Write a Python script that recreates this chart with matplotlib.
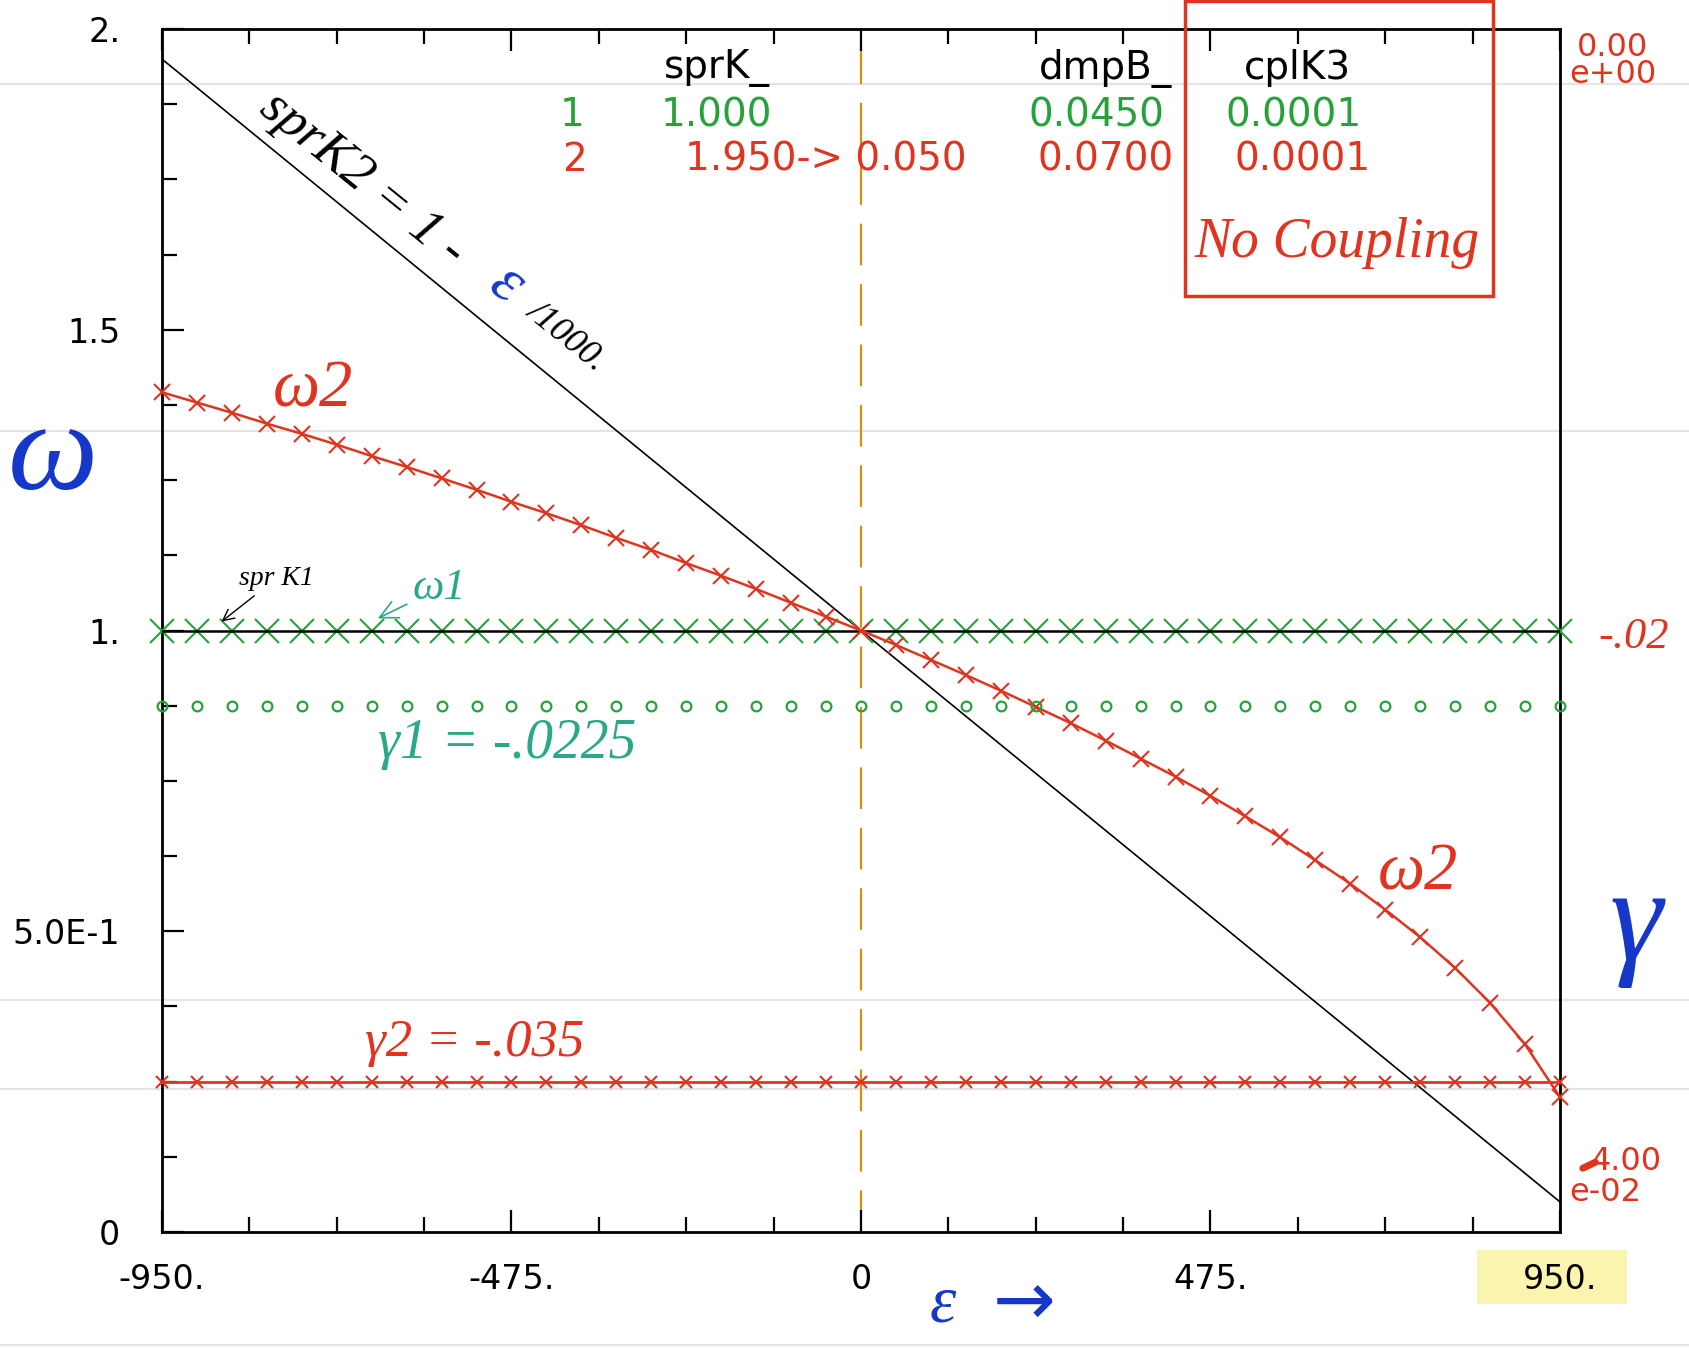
import matplotlib.pyplot as plt
from matplotlib.patches import Rectangle
from matplotlib.lines import Line2D
from matplotlib.ticker import MultipleLocator

# epsilon sweep
eps = [-950.0, -902.5, -855.0, -807.5, -760.0, -712.5, -665.0, -617.5, -570.0, -522.5,
       -475.0, -427.5, -380.0, -332.5, -285.0, -237.5, -190.0, -142.5, -95.0, -47.5,
       0.0, 47.5, 95.0, 142.5, 190.0, 237.5, 285.0, 332.5, 380.0, 427.5,
       475.0, 522.5, 570.0, 617.5, 665.0, 712.5, 760.0, 807.5, 855.0, 902.5, 950.0]

# frequencies (left axis)
omega1 = [1.000] * 41
omega2 = [1.396, 1.379, 1.362, 1.344, 1.327, 1.309, 1.290, 1.272, 1.253, 1.234,
          1.214, 1.195, 1.175, 1.154, 1.134, 1.112, 1.091, 1.069, 1.046, 1.023,
          1.000, 0.976, 0.951, 0.926, 0.900, 0.873, 0.846, 0.817, 0.787, 0.757,
          0.725, 0.691, 0.656, 0.618, 0.579, 0.536, 0.490, 0.439, 0.381, 0.312, 0.224]

# damping rates (right axis)
gamma1 = [-0.0225] * 41
gamma2 = [-0.035] * 41

# spring constants
sprk1_ends = [1.0, 1.0]
sprk2_ends = [1.95, 0.05]
eps_ends = [-950.0, 950.0]

# parameter table
header = ["sprK_", "dmpB_", "cplK3"]
row1 = ["1", "1.000", "0.0450", "0.0001"]
row2 = ["2", "1.950-> 0.050", "0.0700", "0.0001"]

xticks = [-950, -475, 0, 475, 950]
xlabels = ["-950.", "-475.", "0", "475.", "950."]
yticks = [0, 0.5, 1.0, 1.5, 2.0]
ylabels = ["0", "5.0E-1", "1.", "1.5", "2."]

GREEN = "#27a23a"
RED = "#e0341f"
ORANGE = "#e58a00"
BLUE = "#1638c8"
TEAL = "#2aa888"
HAND = dict(family=["Liberation Serif", "DejaVu Sans"], style="italic")

fig = plt.figure(figsize=(16.9, 13.48), dpi=100)
fig.patch.set_facecolor("white")

# faint scan lines
for yy in [84, 431, 1000, 1089, 1345]:
    fig.add_artist(Line2D([0, 1], [1 - yy / 1348] * 2, transform=fig.transFigure,
                          color="#e4e4e4", lw=1.5, zorder=-2))

# yellow highlight behind 950.
fig.add_artist(Rectangle((0.874, 0.033), 0.089, 0.040, transform=fig.transFigure,
                         facecolor="#faf4ae", edgecolor="none", zorder=-1))

ax = fig.add_axes([162 / 1690, 116 / 1348, 1398 / 1690, 1203 / 1348])
ax.patch.set_visible(False)
ax.set_xlim(-950, 950)
ax.set_ylim(0, 2)
for s in ax.spines.values():
    s.set_linewidth(2)

ax.set_xticks(xticks)
ax.set_xticklabels(xlabels)
ax.set_yticks(yticks)
ax.set_yticklabels(ylabels)
ax.xaxis.set_minor_locator(MultipleLocator(118.75))
ax.yaxis.set_minor_locator(MultipleLocator(0.125))
ax.tick_params(which="both", direction="in", top=True, right=True, width=1.6,
               labelsize=24, colors="black")
ax.tick_params(which="major", length=16)
ax.tick_params(which="minor", length=11)
ax.tick_params(axis="x", pad=22)
ax.tick_params(axis="y", pad=30)

ax2 = ax.twinx()
ax2.set_ylim(-0.04, 0)
ax2.set_yticks([])
for s in ax2.spines.values():
    s.set_visible(False)

# lines
ax.plot(eps, omega1, linestyle="none", marker="x", ms=17, mew=1.5, color=GREEN,
        clip_on=False, zorder=3)
ax.plot(eps_ends, sprk1_ends, color="black", lw=1.8, zorder=4)
ax.plot(eps_ends, sprk2_ends, color="black", lw=1.2, zorder=2)
ax.axvline(0, color=ORANGE, lw=1.5, dashes=(20, 9), zorder=1)
ax.plot(eps, omega2, color=RED, lw=1.8, marker="x", ms=12, mew=1.5,
        clip_on=False, zorder=5)

ax2.plot(eps, gamma1, linestyle="none", marker="o", ms=7, mfc="none", mec=GREEN,
         mew=1.6, clip_on=False)
ax2.plot(eps, gamma2, color=RED, lw=2, marker="x", ms=9, mew=1.5, clip_on=False)

# parameter table
for x, t in zip([-196, 332, 593], header):
    ax.text(x, 1.935, t, ha="center", va="center", fontsize=28, color="black")
for x, t in zip([-393, -196, 320, 588], row1):
    ax.text(x, 1.857, t, ha="center", va="center", fontsize=28, color=GREEN)
for x, t in zip([-389, -48, 332, 600], row2):
    ax.text(x, 1.783, t, ha="center", va="center", fontsize=28, color=RED)

# "No Coupling" box
ax.add_patch(Rectangle((441, 1.556), 418, 0.49, fill=False, ec=RED, lw=2.5,
                       clip_on=False, zorder=6))
ax.text(647, 1.645, "No Coupling", ha="center", va="center", fontsize=40,
        color=RED, **HAND)

# handwritten notes
ax.text(-678, 1.75, "sprK2 = 1 -", rotation=-39, rotation_mode="anchor",
        ha="center", va="center", fontsize=38, color="black", **HAND)
ax.text(-482, 1.575, "ε", rotation=-39, rotation_mode="anchor",
        ha="center", va="center", fontsize=46, color=BLUE, **HAND)
ax.text(-400, 1.49, "/1000.", rotation=-39, rotation_mode="anchor",
        ha="center", va="center", fontsize=26, color="black", **HAND)

ax.text(-745, 1.40, "ω2", ha="center", va="center", fontsize=48, color=RED, **HAND)
ax.text(757, 0.597, "ω2", ha="center", va="center", fontsize=48, color=RED, **HAND)

ax.annotate("spr K1", xy=(-872, 1.012), xytext=(-846, 1.086), fontsize=20,
            ha="left", va="center", color="black", **HAND,
            arrowprops=dict(arrowstyle="->", color="black", lw=1))
ax.annotate("ω1", xy=(-660, 1.018), xytext=(-610, 1.07), fontsize=32,
            ha="left", va="center", color=TEAL, **HAND,
            arrowprops=dict(arrowstyle="->", color=TEAL, lw=1.2))
ax.text(-481, 0.812, "γ1 = -.0225", ha="center", va="center", fontsize=40,
        color=TEAL, **HAND)
ax.text(-525, 0.314, "γ2 = -.035", ha="center", va="center", fontsize=38,
        color=RED, **HAND)

# right-side labels
ax.text(1022, 1.947, "0.00\ne+00", ha="center", va="center", fontsize=23,
        color=RED, linespacing=0.85, clip_on=False)
ax.text(1050, 0.99, "-.02", ha="center", va="center", fontsize=32, color=RED,
        clip_on=False, **HAND)
ax.text(1040, 0.1165, "4.00", ha="center", va="center", fontsize=23,
        color=RED, clip_on=False)
ax.text(1012, 0.066, "e-02", ha="center", va="center", fontsize=23,
        color=RED, clip_on=False)
ax.plot([981, 998], [0.106, 0.116], color=RED, lw=5, solid_capstyle="round",
        clip_on=False)

# big axis names
fig.text(0.031, 0.66, "ω", ha="center", va="center", fontsize=92, color=BLUE, **HAND)
fig.text(0.968, 0.312, "γ", ha="center", va="center", fontsize=96, color=BLUE, **HAND)
fig.text(0.558, 0.032, "ε", ha="center", va="center", fontsize=48, color=BLUE,
         **HAND)
fig.text(0.606, 0.032, "→", ha="center", va="center", fontsize=54, color=BLUE,
         family="DejaVu Sans")

fig.savefig("out.png", dpi=100)
